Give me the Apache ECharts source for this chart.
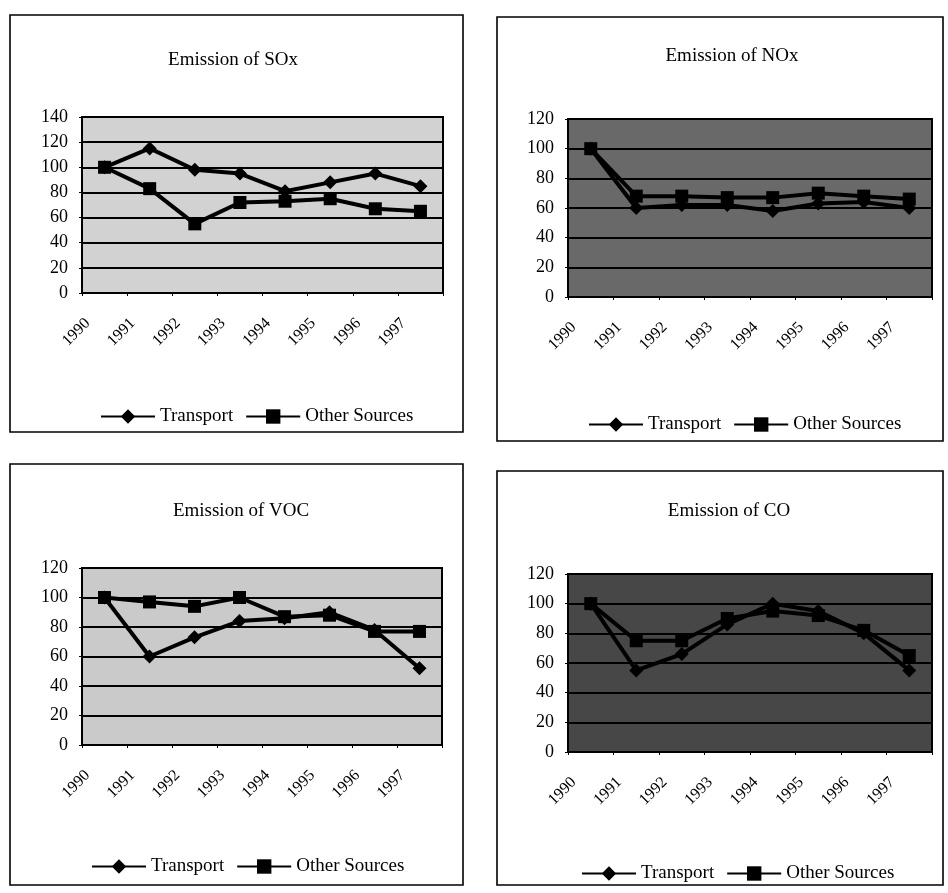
<!DOCTYPE html>
<html>
<head>
<meta charset="utf-8">
<script src="https://cdn.jsdelivr.net/npm/echarts@6/dist/echarts.min.js"></script>
<style>
  html, body { margin: 0; padding: 0; background: #fff; }
  #chart { width: 948px; height: 893px; }
</style>
</head>
<body>
<div id="chart"></div>
<script>
const years = ['1990', '1991', '1992', '1993', '1994', '1995', '1996', '1997'];
const seriesNames = ['Transport', 'Other Sources'];

const soxTransport = [100, 115, 98, 95, 81, 88, 95, 85];
const soxOther     = [100, 83, 55, 72, 73, 75, 67, 65];
const noxTransport = [100, 60, 62, 62, 58, 63, 64, 60];
const noxOther     = [100, 68, 68, 67, 67, 70, 68, 66];
const vocTransport = [100, 60, 73, 84, 86, 90, 78, 52];
const vocOther     = [100, 97, 94, 100, 87, 88, 77, 77];
const coTransport  = [100, 55, 66, 86, 100, 95, 80, 55];
const coOther      = [100, 75, 75, 90, 95, 92, 82, 65];

const titles = ['Emission of SOx', 'Emission of NOx', 'Emission of VOC', 'Emission of CO'];
const yMax = [140, 120, 120, 120];

const FONT = '"Liberation Serif", "DejaVu Serif", serif';

// layout (pixels)
const panels = [
  { box: [10, 15, 453, 417], grid: [82, 117, 361, 176], bg: '#d2d2d2', titleX: 228, titleY: 46, legend: [95, 402], data: [soxTransport, soxOther] },
  { box: [497, 17, 446, 424], grid: [568, 119, 364, 178], bg: '#696969', titleX: 727, titleY: 42, legend: [583, 410], data: [noxTransport, noxOther] },
  { box: [10, 464, 453, 421], grid: [82, 568, 360, 177], bg: '#cacaca', titleX: 236, titleY: 497, legend: [86, 852], data: [vocTransport, vocOther] },
  { box: [497, 471, 446, 414], grid: [568, 574, 364, 178], bg: '#474747', titleX: 724, titleY: 497, legend: [576, 859], data: [coTransport, coOther] }
];

const option = {
  animation: false,
  backgroundColor: '#fff',
  textStyle: { fontFamily: FONT, color: '#000' },
  title: [], grid: [], xAxis: [], yAxis: [], series: [], legend: [],
  graphic: []
};

panels.forEach((p, i) => {
  option.graphic.push({
    type: 'rect', silent: true, z: -1,
    shape: { x: p.box[0], y: p.box[1], width: p.box[2], height: p.box[3] },
    style: { fill: 'none', stroke: '#000', lineWidth: 1.6 }
  });
  option.title.push({
    text: titles[i],
    left: p.titleX, top: p.titleY, textAlign: 'center',
    textStyle: { fontFamily: FONT, fontSize: 19, fontWeight: 'normal', color: '#000' }
  });
  option.grid.push({
    left: p.grid[0], top: p.grid[1], width: p.grid[2], height: p.grid[3],
    show: true, backgroundColor: p.bg, borderColor: '#000', borderWidth: 2,
    containLabel: false
  });
  option.xAxis.push({
    type: 'category', gridIndex: i, data: years, boundaryGap: true,
    axisLine: { show: true, lineStyle: { color: '#000', width: 2 } },
    axisTick: { show: true, length: 3, lineStyle: { color: '#000' } },
    axisLabel: {
      rotate: 45, margin: 11, fontFamily: FONT, fontSize: 16, color: '#000',
      padding: [0, 24, 0, 0]
    },
    splitLine: { show: false }
  });
  option.yAxis.push({
    type: 'value', gridIndex: i, min: 0, max: yMax[i], interval: 20,
    axisLine: { show: true, lineStyle: { color: '#000', width: 2 } },
    axisTick: { show: true, length: 3, lineStyle: { color: '#000' } },
    axisLabel: { margin: 14, fontFamily: FONT, fontSize: 18, color: '#000' },
    splitLine: { show: true, lineStyle: { color: '#000', width: 2 } }
  });
  option.legend.push({
    left: p.legend[0], top: p.legend[1], orient: 'horizontal',
    itemWidth: 54, itemHeight: 18, itemGap: 12,
    textStyle: { fontFamily: FONT, fontSize: 19, color: '#000' },
    data: [seriesNames[0], seriesNames[1]]
  });
  option.series.push({
    name: seriesNames[0], type: 'line', xAxisIndex: i, yAxisIndex: i,
    data: p.data[0], symbol: 'diamond', symbolSize: 14,
    lineStyle: { color: '#000', width: 4 }, itemStyle: { color: '#000' }
  });
  option.series.push({
    name: seriesNames[1], type: 'line', xAxisIndex: i, yAxisIndex: i,
    data: p.data[1], symbol: 'rect', symbolSize: 13,
    lineStyle: { color: '#000', width: 4 }, itemStyle: { color: '#000' }
  });
});

const chart = echarts.init(document.getElementById('chart'), null, { renderer: 'canvas' });
chart.setOption(option);
</script>
</body>
</html>
